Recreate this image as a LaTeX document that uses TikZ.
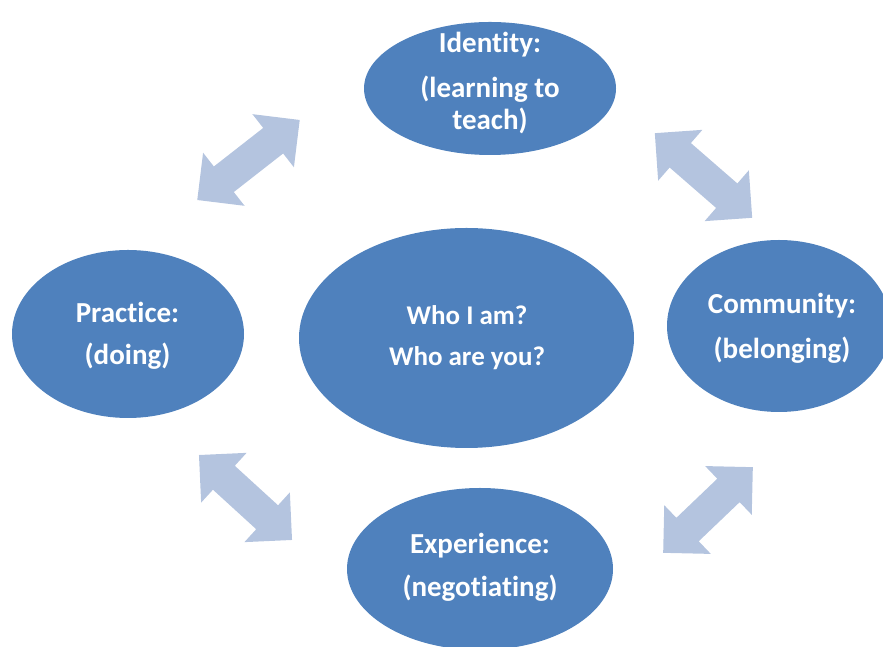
\documentclass[tikz,border=0pt]{standalone}
\usepackage{fontspec}
\setmainfont{Carlito}[Ligatures=NoCommon]
\usetikzlibrary{shapes.geometric,shapes.arrows}
\definecolor{blobblue}{HTML}{4F81BD}
\definecolor{arrowgrey}{HTML}{B4C4DF}
\tikzset{
  blob/.style={ellipse,fill=blobblue,inner sep=0pt},
  blobtext/.style={text=white,font=\fontsize{29}{32}\selectfont\bfseries,align=center,inner sep=0pt},
  twoway/.style={double arrow,fill=arrowgrey,inner xsep=0pt,inner ysep=16pt,minimum width=67pt,
    double arrow head extend=17.5pt,double arrow tip angle=90}
}
\begin{document}
\begin{tikzpicture}[x=1pt,y=1pt]
        \useasboundingbox (0,0) rectangle (883,647);
        \clip (0,0) rectangle (883,647);
        % ellipses
        \node[blob,minimum width=252pt,minimum height=133pt](identity)at(490,558.5){};
        \node[blob,minimum width=232pt,minimum height=168pt](practice)at(128,313){};
        \node[blob,minimum width=335pt,minimum height=220pt](self)at(466.5,309){};
        \node[blob,minimum width=224pt,minimum height=172pt](community)at(779,321){};
        \node[blob,minimum width=266pt,minimum height=162pt](experience)at(480,78){};
        % labels
        \node[blobtext](identitytext)at(490,563.5){Identity:\\[13pt](learning to\\teach)};
        \node[blobtext](practicetext)at(127.5,311){Practice:\\[10pt](doing)};
        \node[blobtext,font=\fontsize{27}{32}\selectfont\bfseries](selftext)at(467,309){Who I am?\\[9pt]Who are you?};
        \node[blobtext](communitytext)at(782,319){Community:\\[13pt](belonging)};
        \node[blobtext](experiencetext)at(480,80){Experience:\\[11pt](negotiating)};
        % arrows
        \node[twoway,minimum height=130pt,rotate=38](arrowtl)at(248.5,487){};
        \node[twoway,minimum height=129pt,rotate=-41](arrowtr)at(703.5,471.5){};
        \node[twoway,minimum height=126pt,rotate=-42.4](arrowbl)at(245.5,149.5){};
        \node[twoway,minimum height=124pt,rotate=43.7](arrowbr)at(708,137){};
\end{tikzpicture}
\end{document}
